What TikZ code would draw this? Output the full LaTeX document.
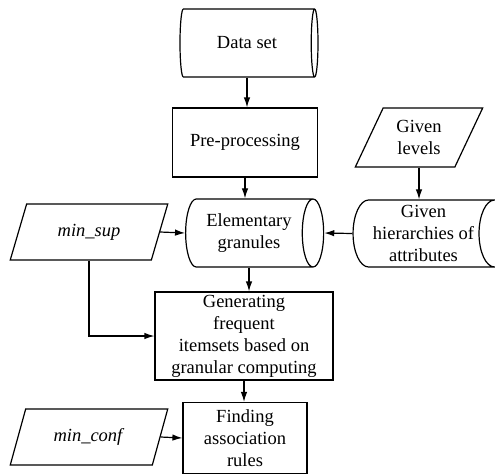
\documentclass[tikz,border=0pt]{standalone}
\usepackage{fontspec}
\setmainfont{Liberation Serif}
\usetikzlibrary{arrows.meta}
\usetikzlibrary{shapes.geometric}

\tikzset{
  flowtext/.style={font=\fontsize{18.5}{22}\selectfont,align=center,inner sep=0pt},
  datastore/.style={flowtext,draw,line width=1.2pt,cylinder,shape aspect=0.55},
  procbox/.style={flowtext,draw,line width=1.2pt,rectangle},
  inputbox/.style={flowtext,draw,line width=1.2pt,trapezium,trapezium left angle=63,
    trapezium right angle=117,trapezium stretches=true},
  flowarrow/.style={line width=1.2pt,-{Latex[length=10pt,width=6.5pt]}}
}

\begin{document}
\begin{tikzpicture}[x=1pt,y=1pt,yscale=-1]
\useasboundingbox (0,0) rectangle (495,475);

% main column
\node [datastore,minimum height=138pt,minimum width=68pt] (dataset) at (247,43) {Data set};
\node [procbox,minimum width=145pt,minimum height=69pt] (preproc) at (245,142.5) {Pre-processing};
\node [datastore,minimum height=138pt,minimum width=68pt] (elemgran) at (249,233) {Elementary\\granules};
\node [procbox,minimum width=178pt,minimum height=88pt] (genfreq) at (244,336) {Generating\\frequent\\itemsets based on\\granular computing};
\node [procbox,minimum width=124pt,minimum height=71pt] (findrules) at (245,438) {Finding\\association\\rules};

% inputs
\node [inputbox,minimum width=158pt,minimum height=56pt] (minsup) at (89,232) {\textit{min\_sup}};
\node [inputbox,minimum width=158pt,minimum height=56pt] (minconf) at (89,437) {\textit{min\_conf}};
\node [inputbox,minimum width=128pt,minimum height=59pt] (levels) at (419,137.5) {Given\\levels};
\node [datastore,minimum height=157pt,minimum width=67pt] (hierattr) at (423.5,233.5) {Given\\hierarchies of\\attributes};

% arrows
\draw [flowarrow] (dataset.south) -- (dataset.south |- preproc.north);
\draw [flowarrow] (preproc.south) -- (preproc.south |- elemgran.north);
\draw [flowarrow] (elemgran.south) -- (elemgran.south |- genfreq.north);
\draw [flowarrow] (genfreq.south) -- (genfreq.south |- findrules.north);
\draw [flowarrow] (levels.south) -- (levels.south |- hierattr.north);
\draw [flowarrow] (hierattr.west) -- (elemgran.east);
\draw [flowarrow] (minsup.east) -- (elemgran.west);
\draw [flowarrow] (minsup.south) |- (genfreq.west);
\draw [flowarrow] (minconf.east) -- (findrules.west);

\end{tikzpicture}
\end{document}
